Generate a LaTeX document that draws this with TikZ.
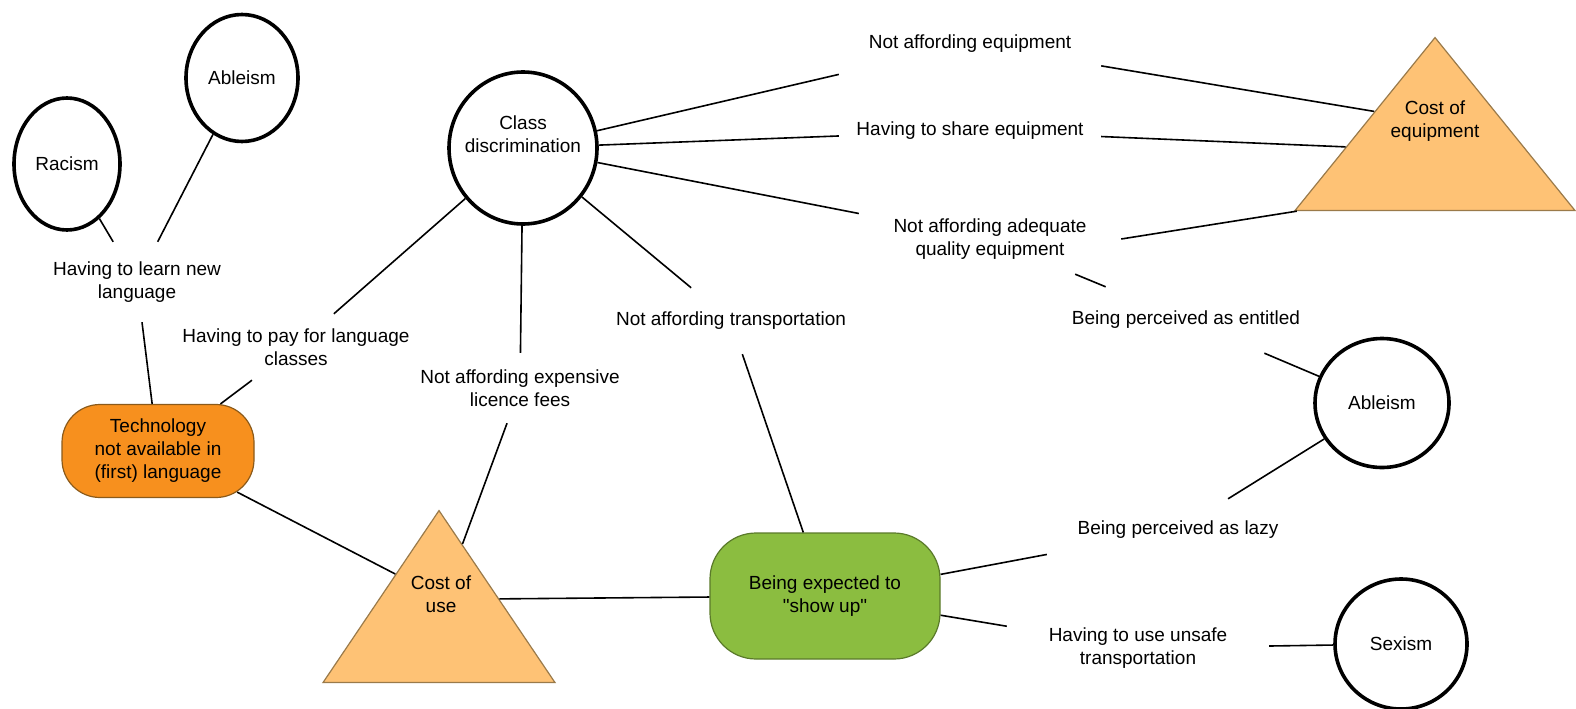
\documentclass[tikz,border=0pt]{standalone}
\usepackage{fontspec}
\setmainfont{Liberation Sans}[Ligatures=TeXOff]
\usepackage{xcolor}
\usepackage{tikz}
\usetikzlibrary{shapes.geometric}
\definecolor{techfill}{HTML}{F7901E}
\definecolor{techline}{HTML}{8B5A1A}
\definecolor{showfill}{HTML}{8BBD40}
\definecolor{showline}{HTML}{5A7A2A}
\definecolor{costfill}{HTML}{FEC275}
\definecolor{costline}{HTML}{9A7A4A}

\begin{document}
\begin{tikzpicture}[x=1pt,y=-1pt,
    font=\fontsize{19}{23}\selectfont,
    ism/.style={shape=ellipse,draw=black,line width=3.6pt,inner sep=-15pt,align=center},
    lbl/.style={shape=rectangle,inner sep=0pt,minimum width=262pt,minimum height=66pt,align=center},
    pill/.style={shape=rectangle,rounded corners=38pt,line width=1.2pt,inner sep=0pt,align=center},
    cost/.style={shape=isosceles triangle,shape border rotate=90,isosceles triangle stretches,
      fill=costfill,draw=costline,line width=1.2pt,inner sep=0pt,anchor=apex},
    every edge/.style={draw=black,line width=1.6pt}]
    \useasboundingbox (0,0) rectangle (1576,709);
    % circles
    \node[ism,minimum width=106pt,minimum height=132pt] (rac) at (67,164){Racism};
    \node[ism,minimum width=112pt,minimum height=127pt] (abla) at (242,78){Ableism};
    \node[ism,minimum width=148pt,minimum height=152pt,text depth=28pt] (cls) at (523,148){Class\\discrimination};
    \node[ism,minimum width=134pt,minimum height=129pt] (ablb) at (1382,403){Ableism};
    \node[ism,minimum width=132pt,minimum height=130pt] (sex) at (1401,644){Sexism};
    % boxes
    \node[pill,fill=techfill,draw=techline,minimum width=192pt,minimum height=93pt] (tech) at (158,451)
      {Technology\\not available in\\(first) language};
    \node[pill,fill=showfill,draw=showline,minimum width=230pt,minimum height=126pt,rounded corners=46pt] (show) at (825,596)
      {Being expected to\\"show up"};
    % triangles
    \node[cost,minimum width=232pt,minimum height=172pt] (cou) at (439,509){};
    \node[cost,minimum width=280pt,minimum height=173pt] (coe) at (1435,36){};
    \node[align=center] (coutxt) at (441,594){Cost of\\use};
    \node[align=center] (coetxt) at (1435,121){Cost of\\equipment};
    % labels
    \node[lbl,minimum height=80pt] (lrn) at (137,282){Having to learn new\\language};
    \node[lbl] (pay) at (296,347){Having to pay for language\\classes};
    \node[lbl,minimum height=70pt] (lic) at (520,388){Not affording expensive\\licence fees};
    \node[lbl] (ntr) at (731,321){Not affording transportation};
    \node[lbl,minimum height=64pt] (neq) at (970,44){Not affording equipment};
    \node[lbl,minimum height=56pt] (shr) at (970,131){Having to share equipment};
    \node[lbl,minimum height=70pt] (nqe) at (990,239){Not affording adequate\\quality equipment};
    \node[lbl] (ent) at (1186,320){Being perceived as entitled};
    \node[lbl,minimum height=62pt] (lzy) at (1178,530){Being perceived as lazy};
    \node[lbl] (uns) at (1138,648){Having to use unsafe\\transportation};
    % connectors
    \path (rac) edge (lrn);
    \path (abla) edge (lrn);
    \path (lrn) edge (tech);
    \path (cls) edge (pay);
    \path (pay) edge (tech);
    \path (cls) edge (lic);
    \path (lic) edge (cou.73);
    \path (tech) edge[shorten <=-13pt] (cou.133);
    \path (cou.20) edge (show);
    \path (cls) edge (ntr);
    \path (ntr) edge (show);
    \path (cls) edge (neq);
    \path (neq) edge (coe.152);
    \path (cls) edge (shr);
    \path (shr) edge (coe.182);
    \path (cls) edge (nqe);
    \path (nqe.east) edge (coe.206);
    \path (nqe) edge (ent);
    \path (ent) edge (ablb);
    \path (show) edge (lzy);
    \path (lzy) edge (ablb);
    \path (show) edge (uns);
    \path (uns) edge (sex);
\end{tikzpicture}
\end{document}
